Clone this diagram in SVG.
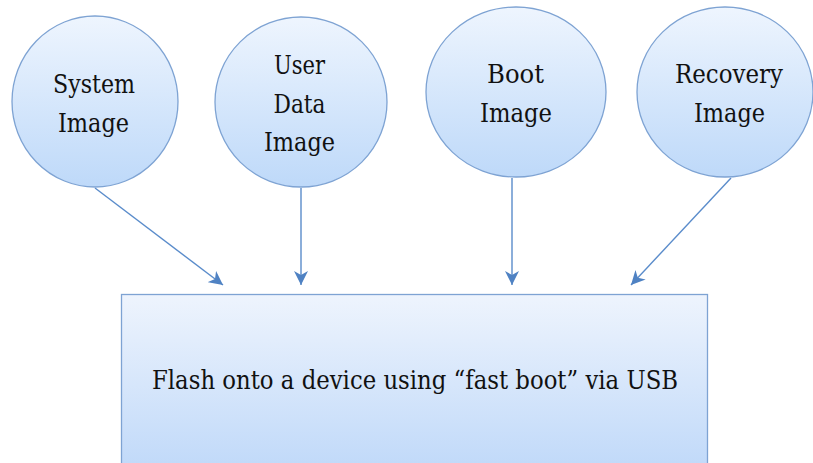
<svg xmlns="http://www.w3.org/2000/svg" width="813" height="463" viewBox="0 0 813 463">
  <style>
    .node { stroke: #7ea3d3; stroke-width: 1.3; }
    .lbl { font-family: "DejaVu Serif", serif; font-size: 26px; fill: #111; text-anchor: middle; }
    .conn { stroke: #5a8ccb; stroke-width: 1.4; fill: none; marker-end: url(#arr); }
  </style>
  <defs>
    <linearGradient id="gc" x1="0" y1="0" x2="0" y2="1">
      <stop offset="0" stop-color="#eef5fe"/>
      <stop offset="1" stop-color="#bed9f9"/>
    </linearGradient>
    <linearGradient id="gr" x1="0" y1="0" x2="0" y2="1">
      <stop offset="0" stop-color="#eef4fd"/>
      <stop offset="1" stop-color="#c0d9f9"/>
    </linearGradient>
    <marker id="arr" markerUnits="userSpaceOnUse" markerWidth="16" markerHeight="14" refX="14" refY="7" orient="auto">
      <path d="M0,0 L14,7 L0,14 L4,7 z" fill="#4f82c3"/>
    </marker>
  </defs>
  <rect width="813" height="463" fill="#ffffff"/>

  <g id="connectors">
    <line class="conn" x1="95" y1="188" x2="223" y2="285"/>
    <line class="conn" x1="301" y1="188" x2="301" y2="285"/>
    <line class="conn" x1="512" y1="178" x2="512" y2="285"/>
    <line class="conn" x1="731" y1="178" x2="631" y2="285"/>
  </g>

  <g id="system">
    <ellipse class="node" cx="95" cy="101.5" rx="83" ry="85.5" fill="url(#gc)"/>
    <text class="lbl" x="94" y="93" textLength="82" lengthAdjust="spacingAndGlyphs">System</text>
    <text class="lbl" x="93.5" y="132" textLength="71" lengthAdjust="spacingAndGlyphs">Image</text>
  </g>
  <g id="userdata">
    <ellipse class="node" cx="301" cy="102" rx="86" ry="85" fill="url(#gc)"/>
    <text class="lbl" x="299.5" y="74" textLength="51" lengthAdjust="spacingAndGlyphs">User</text>
    <text class="lbl" x="299.5" y="113" textLength="52" lengthAdjust="spacingAndGlyphs">Data</text>
    <text class="lbl" x="299.5" y="151" textLength="71" lengthAdjust="spacingAndGlyphs">Image</text>
  </g>
  <g id="boot">
    <ellipse class="node" cx="516" cy="92" rx="90" ry="85" fill="url(#gc)"/>
    <text class="lbl" x="515.5" y="83" textLength="57" lengthAdjust="spacingAndGlyphs">Boot</text>
    <text class="lbl" x="516" y="122" textLength="72" lengthAdjust="spacingAndGlyphs">Image</text>
  </g>
  <g id="recovery">
    <ellipse class="node" cx="725" cy="92" rx="88" ry="85" fill="url(#gc)"/>
    <text class="lbl" x="729" y="83" textLength="108" lengthAdjust="spacingAndGlyphs">Recovery</text>
    <text class="lbl" x="729.5" y="122" textLength="71" lengthAdjust="spacingAndGlyphs">Image</text>
  </g>
  <g id="flash">
    <rect class="node" x="121.5" y="294.5" width="586" height="175" fill="url(#gr)"/>
    <text class="lbl" x="415" y="389" textLength="526" lengthAdjust="spacingAndGlyphs">Flash onto a device using “fast boot” via USB</text>
  </g>
</svg>
